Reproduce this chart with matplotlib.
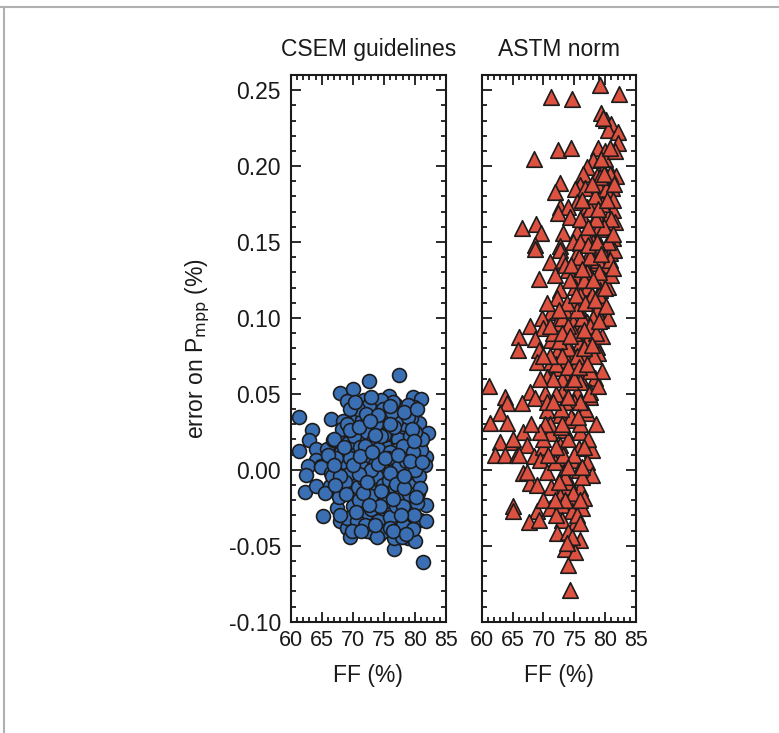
import numpy as np
import matplotlib.pyplot as plt
from matplotlib.lines import Line2D
from matplotlib.ticker import MultipleLocator

plt.rcParams['font.family'] = ['Liberation Sans', 'DejaVu Sans']

# ---- data: (FF %, error on Pmpp %) ----
csem_pts = [
    (61.4, 0.0347), (72.6, 0.0588), (77.4, 0.0625), (68.0, 0.0509), (70.1, 0.0531),
    (69.1, 0.0452), (71.8, 0.046), (74.2, 0.0443), (75.8, 0.0487), (77.0, 0.0428),
    (79.6, 0.0478), (80.9, 0.0465), (79.8, 0.0417), (66.5, 0.0334), (63.4, 0.0263),
    (62.9, 0.0197), (61.4, 0.0127), (64.0, 0.0136), (65.9, 0.0136), (66.8, 0.0197),
    (68.4, 0.0324), (70.6, 0.0362), (71.6, 0.0318), (73.8, 0.0362), (75.1, 0.0395),
    (77.8, 0.0362), (79.7, 0.0373), (80.7, 0.0311), (82.1, 0.0245), (70.3, 0.0268),
    (73.0, 0.0268), (75.1, 0.0274), (77.8, 0.0285), (80.2, 0.0237), (67.6, 0.0197),
    (69.5, 0.0197), (71.6, 0.0208), (74.1, 0.0197), (76.2, 0.0197), (78.6, 0.0197),
    (80.8, 0.0176), (68.1, 0.012), (70.3, 0.0132), (72.4, 0.0136), (73.8, 0.0136),
    (75.7, 0.0132), (77.8, 0.0143), (79.7, 0.0136), (81.8, 0.0084), (64.1, 0.0066),
    (62.8, 0.0026), (64.9, 0.0026),
    (62.5, -0.0033), (62.3, -0.0149), (64.1, -0.0105), (64.9, 0.0022), (66.5, -0.0022),
    (66.3, -0.0105), (65.2, -0.0307), (67.9, -0.0142), (67.5, -0.0252), (67.9, -0.034),
    (69.1, -0.0384), (69.5, -0.0443), (69.0, -0.0318), (70.3, -0.0197), (70.8, -0.0066),
    (72.4, 0.0), (72.4, -0.034), (73.3, -0.0417), (74.2, -0.0428), (72.4, -0.0219),
    (74.3, -0.0285), (75.7, -0.0252), (75.7, -0.0142), (73.5, -0.0099), (75.1, -0.0033),
    (77.3, -0.034), (77.3, -0.0417), (76.7, -0.0522), (78.9, -0.0449), (80.0, -0.0471),
    (81.3, -0.0610), (80.8, -0.0329), (81.8, -0.034), (81.8, -0.023), (80.5, -0.0153),
    (78.6, -0.0296), (78.6, -0.0197), (78.4, -0.0088), (77.0, -0.0022), (80.2, -0.0022),
    (81.6, 0.0033), (74.1, -0.0175), (71.1, -0.0274), (69.8, -0.0088), (68.4, 0.0022),
    (71.9, -0.0142), (75.1, -0.0373), (78.4, -0.0373),
    (68.5, 0.005), (69.5, -0.002), (70.5, 0.008), (71.5, 0.002), (72.5, 0.010),
    (73.5, 0.004), (74.5, 0.007), (75.5, 0.001), (76.5, 0.009), (77.5, 0.003),
    (78.5, 0.006), (79.5, 0.000), (68.8, -0.008), (69.8, -0.015), (70.8, -0.011),
    (71.8, -0.006), (72.8, -0.013), (73.8, -0.004), (74.8, -0.010), (75.8, -0.007),
    (76.8, -0.012), (77.8, -0.016), (78.8, -0.005), (79.8, -0.010), (69.2, 0.018),
    (70.2, 0.022), (71.2, 0.015), (72.2, 0.025), (73.2, 0.019), (74.2, 0.028),
    (75.2, 0.016), (76.2, 0.024), (77.2, 0.020), (78.2, 0.030), (79.2, 0.022),
    (70.0, -0.024), (71.0, -0.020), (72.0, -0.030), (73.0, -0.026), (74.0, -0.034),
    (75.0, -0.021), (76.0, -0.031), (77.0, -0.024), (78.0, -0.036), (79.0, -0.027),
    (71.4, 0.033), (73.4, 0.038), (75.6, 0.034), (77.6, 0.040), (72.6, 0.043),
    (76.4, 0.045), (78.8, 0.043), (67.3, 0.008), (66.6, -0.004), (67.8, -0.018),
    (68.2, 0.027), (80.2, 0.008), (80.6, -0.004), (81.0, 0.013), (80.4, -0.022),
    (81.2, 0.020), (73.0, 0.000), (74.0, 0.014), (76.0, -0.002), (77.0, 0.013),
    (78.0, -0.024), (75.0, -0.040), (76.6, -0.045), (74.6, 0.046), (79.4, 0.034),
    (69.6, 0.008), (70.6, -0.034), (72.2, -0.040), (79.6, -0.039),
    (69.0, 0.030), (70.9, 0.040), (72.9, 0.048), (74.9, 0.040), (76.9, 0.032),
    (78.9, 0.035), (80.0, 0.025), (68.0, -0.030), (69.9, -0.040), (71.9, -0.036),
    (73.9, -0.044), (75.9, -0.038), (77.9, -0.044), (79.9, -0.030), (71.0, -0.003),
    (72.0, 0.016), (73.0, -0.017), (74.0, 0.004), (75.0, 0.023), (76.0, 0.012),
    (77.0, -0.009), (78.0, 0.016), (79.0, -0.016), (80.0, 0.000), (70.0, 0.003),
    (68.0, -0.004), (67.0, 0.020), (66.0, 0.010), (65.5, -0.015), (69.5, 0.040),
    (71.7, -0.015), (73.7, 0.030), (75.7, 0.008), (77.7, -0.030), (79.7, 0.012),
    (76.3, 0.038), (72.3, -0.008), (74.4, -0.024), (78.3, -0.012), (80.8, -0.012),
    (70.4, 0.045), (72.1, 0.037), (74.0, 0.036), (76.0, 0.042), (78.2, 0.038),
    (80.3, 0.040), (69.6, 0.026), (71.0, 0.028), (72.7, 0.032), (74.6, 0.022),
    (76.7, 0.028), (79.5, 0.027), (68.6, 0.015), (71.1, 0.009), (73.1, 0.012),
    (75.1, 0.008), (77.3, 0.010), (79.2, 0.006), (81.1, 0.005), (68.9, -0.016),
    (70.5, -0.028), (72.6, -0.023), (74.6, -0.014), (76.4, -0.019), (78.3, -0.004),
    (80.1, -0.018), (71.3, -0.040), (73.6, -0.036), (76.5, -0.040), (78.6, -0.042),
    (79.8, 0.019), (66.9, 0.003), (67.1, -0.010), (73.6, 0.023), (75.9, 0.030),
]

astm_pts = [
    (79.1, 0.2533), (71.2, 0.2452), (74.7, 0.2445), (82.3, 0.2474), (79.4, 0.2347),
    (80.1, 0.2303), (80.9, 0.2276), (80.5, 0.2241), (82.0, 0.2226), (79.7, 0.2314),
    (82.0, 0.2153), (72.3, 0.2105), (74.5, 0.2116), (68.5, 0.2044), (78.9, 0.2116),
    (80.0, 0.2101), (78.1, 0.2039), (77.0, 0.1995), (79.7, 0.1974), (76.4, 0.1947),
    (78.6, 0.1934), (81.1, 0.1941), (81.8, 0.1934), (72.7, 0.1886), (75.9, 0.1875),
    (78.9, 0.1875), (71.9, 0.1831), (75.1, 0.1847), (76.7, 0.1853), (80.5, 0.1816),
    (81.1, 0.1853), (75.4, 0.1765), (78.1, 0.1765), (80.0, 0.1765), (72.7, 0.1732),
    (74.0, 0.1728), (77.0, 0.1732), (81.2, 0.1711), (72.4, 0.1693), (74.3, 0.1667),
    (78.6, 0.1678), (80.5, 0.1667), (81.6, 0.1634), (76.5, 0.1645), (66.6, 0.1590),
    (68.8, 0.1618), (69.6, 0.1557), (73.2, 0.1557), (75.4, 0.1568), (77.6, 0.1557),
    (80.0, 0.1584), (81.2, 0.1524), (68.6, 0.1480), (72.7, 0.1474), (75.9, 0.1491),
    (79.2, 0.1480),
    (68.6, 0.1452), (72.7, 0.1447), (75.4, 0.1426), (77.6, 0.1436), (79.4, 0.1469),
    (80.8, 0.1426), (71.1, 0.1370), (73.2, 0.1382), (75.9, 0.1370), (78.4, 0.1360),
    (80.3, 0.1349), (69.3, 0.1255), (71.9, 0.1283), (74.0, 0.1316), (75.4, 0.1272),
    (77.6, 0.1283), (79.7, 0.1261), (72.7, 0.1184), (75.1, 0.1206), (77.0, 0.1195),
    (79.2, 0.1184), (80.5, 0.1206), (72.2, 0.1130), (74.8, 0.1107), (77.3, 0.1118),
    (79.7, 0.1107), (71.3, 0.1042), (73.5, 0.1053), (75.7, 0.1064), (78.6, 0.1053),
    (69.7, 0.0998), (72.2, 0.0969), (74.8, 0.0976), (77.0, 0.0976), (79.4, 0.0987),
    (67.8, 0.0947), (70.0, 0.0932), (73.8, 0.0921), (75.9, 0.0910), (78.4, 0.0899),
    (66.1, 0.0877), (68.6, 0.0860), (71.3, 0.0855), (73.2, 0.0844), (75.9, 0.0833),
    (78.6, 0.0811), (65.9, 0.0789), (69.2, 0.0789), (72.2, 0.0778), (74.6, 0.0768),
    (78.9, 0.0768), (68.9, 0.0713), (71.3, 0.0713), (73.8, 0.0724), (76.5, 0.0724),
    (72.2, 0.0669), (75.1, 0.0680), (77.6, 0.0658), (70.5, 0.0614), (73.5, 0.0625),
    (75.9, 0.0614), (78.4, 0.0603), (61.2, 0.0553), (63.8, 0.0482), (67.8, 0.0515),
    (70.3, 0.0505), (73.0, 0.0515), (75.4, 0.0505), (77.6, 0.0515),
    (64.1, 0.0439), (63.0, 0.0373), (61.3, 0.0307), (64.1, 0.0307), (66.5, 0.0439),
    (68.6, 0.0472), (63.0, 0.0186), (64.9, 0.0186), (62.2, 0.0099), (63.8, 0.0099),
    (65.7, 0.0099), (66.7, 0.0252), (67.3, 0.0164), (68.4, 0.0088), (66.7, -0.0022),
    (67.8, -0.0088), (70.5, 0.0395), (72.7, 0.0362), (74.8, 0.0329), (77.0, 0.0373),
    (77.6, 0.0482), (71.1, 0.0241), (73.5, 0.0263), (75.9, 0.0252), (70.0, 0.0153),
    (72.7, 0.0164), (75.7, 0.0142), (77.8, 0.0132), (69.4, 0.0066), (72.2, 0.0077),
    (74.6, 0.0066), (77.0, 0.0055), (67.3, -0.0011), (70.5, -0.0011), (73.2, -0.0022),
    (75.7, 0.0), (77.8, -0.0033), (68.9, -0.0099), (71.3, -0.0110), (73.8, -0.0110),
    (75.9, -0.0121), (72.7, -0.0175), (74.6, -0.0197), (76.5, -0.0186), (65.1, -0.0241),
    (65.1, -0.0274), (68.9, -0.0274), (67.6, -0.0346), (69.2, -0.0329), (71.1, -0.0252),
    (73.0, -0.0230), (74.6, -0.0274), (76.2, -0.0252), (73.0, -0.0329), (75.1, -0.0351),
    (72.2, -0.0417), (74.0, -0.0406), (75.9, -0.0465), (73.5, -0.0522), (75.1, -0.0544),
    (74.0, -0.0625), (74.3, -0.0794), (74.6, -0.0439), (73.8, -0.0482),
    (74.0, 0.020), (75.0, 0.045), (76.0, 0.058), (77.0, 0.085), (78.0, 0.100),
    (79.0, 0.115), (80.0, 0.140), (81.0, 0.165), (80.2, 0.185), (79.0, 0.160),
    (78.0, 0.150), (77.0, 0.130), (76.0, 0.115), (75.0, 0.090), (74.0, 0.080),
    (73.0, 0.060), (72.0, 0.050), (71.0, 0.030), (70.0, 0.020), (73.5, 0.045),
    (76.8, 0.040), (78.2, 0.075), (79.5, 0.088), (80.5, 0.100), (81.0, 0.128),
    (81.5, 0.145), (80.0, 0.205), (79.2, 0.193), (81.3, 0.178), (77.5, 0.172),
    (78.8, 0.138), (76.2, 0.100), (74.5, 0.058), (72.8, 0.028), (71.8, 0.005),
    (70.2, 0.030), (73.2, 0.010), (74.2, -0.008), (75.4, -0.030), (76.3, -0.005),
    (77.2, 0.020), (78.5, 0.030), (72.0, 0.070), (75.5, 0.075), (77.8, 0.115),
    (79.8, 0.160), (80.8, 0.195), (81.6, 0.210), (71.5, 0.090), (73.0, 0.100),
    (74.3, 0.125), (75.8, 0.140), (76.8, 0.155), (77.3, 0.050), (76.0, 0.030),
    (78.8, 0.055), (79.5, 0.065),
    (72.5, 0.085), (74.0, 0.095), (75.5, 0.105), (76.5, 0.125), (77.5, 0.140),
    (78.5, 0.165), (79.5, 0.175), (80.5, 0.150), (79.0, 0.130), (77.5, 0.095),
    (76.5, 0.080), (75.0, 0.060), (73.0, 0.075), (71.5, 0.060), (70.5, 0.045),
    (69.5, 0.025), (72.0, 0.015), (73.5, -0.005), (75.0, 0.010), (76.5, 0.015),
    (74.5, 0.035), (76.0, 0.045), (77.5, 0.065), (78.5, 0.090), (80.0, 0.120),
    (81.2, 0.155), (79.8, 0.195), (78.3, 0.180), (76.0, 0.165), (74.8, 0.150),
    (73.5, 0.135), (70.5, 0.110), (71.0, 0.075), (69.5, 0.060), (68.0, 0.030),
    (66.0, 0.010), (65.0, 0.020), (70.0, -0.020), (72.0, -0.030), (76.0, -0.035),
    (74.8, -0.015),
    (76.2, 0.178), (77.8, 0.188), (79.3, 0.205), (80.7, 0.212), (77.2, 0.160),
    (78.8, 0.172), (80.3, 0.178), (81.5, 0.188), (76.0, 0.150), (77.2, 0.148),
    (78.7, 0.150), (80.8, 0.138), (74.5, 0.135), (76.3, 0.132), (78.0, 0.125),
    (79.3, 0.142), (81.3, 0.133), (73.8, 0.110), (75.3, 0.115), (76.8, 0.110),
    (78.3, 0.112), (80.2, 0.108), (73.0, 0.090), (74.3, 0.088), (76.5, 0.092),
    (77.8, 0.082), (79.0, 0.098), (71.0, 0.095), (72.5, 0.105), (74.0, 0.068),
    (75.8, 0.068), (77.0, 0.070), (70.0, 0.075), (72.8, 0.040), (74.0, 0.048),
    (75.6, 0.035), (71.5, 0.045), (73.0, 0.030), (70.8, 0.010), (74.0, 0.002),
    (76.2, 0.002), (72.5, -0.008), (76.0, -0.020), (73.5, -0.020), (71.8, -0.020),
]

csem = np.array(csem_pts)
astm = np.array(astm_pts)

titles = ["CSEM guidelines", "ASTM norm"]
ytick_vals = [-0.10, -0.05, 0.00, 0.05, 0.10, 0.15, 0.20, 0.25]
xtick_vals = [60, 65, 70, 75, 80, 85]
ink = '#1a1a1a'

fig = plt.figure(figsize=(7.79, 7.33), dpi=100)
ax1 = fig.add_axes([0.3732, 0.1518, 0.1994, 0.7459])
ax2 = fig.add_axes([0.6184, 0.1518, 0.1981, 0.7459])

ax1.scatter(csem[:, 0], csem[:, 1], s=100, marker='o', c='#3b6fb4',
            edgecolors='#1c1c1c', linewidths=1.2, zorder=3)
ax2.scatter(astm[:, 0], astm[:, 1], s=125, marker='^', c='#dd5140',
            edgecolors='#1c1c1c', linewidths=1.2, zorder=3)

for ax, t in zip([ax1, ax2], titles):
    ax.set_xlim(60, 85)
    ax.set_ylim(-0.10, 0.26)
    ax.set_xticks(xtick_vals)
    ax.set_yticks(ytick_vals)
    ax.xaxis.set_minor_locator(MultipleLocator(1))
    ax.yaxis.set_minor_locator(MultipleLocator(0.01))
    ax.tick_params(which='both', direction='in', top=True, right=True,
                   width=1.3, colors=ink, labelsize=15.5, labelcolor=ink)
    ax.tick_params(which='major', length=7, pad=6)
    ax.tick_params(which='minor', length=3.5)
    for sp in ax.spines.values():
        sp.set_linewidth(1.5)
        sp.set_color(ink)
    ax.set_title(t, fontsize=16.5, pad=14, color=ink)
    ax.set_xlabel("FF (%)", fontsize=16.5, labelpad=9, color=ink)

ax1.set_yticklabels(["%.2f" % v for v in ytick_vals])
ax1.tick_params(axis='y', which='major', pad=7, labelsize=16.5)
ax2.tick_params(axis='y', labelleft=False)
ax1.set_ylabel("error on P$_{\\mathrm{mpp}}$ (%)", fontsize=16.5, labelpad=12,
               color=ink)

# thin grey frame at the top and left edge of the figure
fig.add_artist(Line2D([0, 1], [0.990, 0.990], transform=fig.transFigure,
                      color='#b0b0b0', linewidth=1.5))
fig.add_artist(Line2D([0.0055, 0.0055], [0, 0.990], transform=fig.transFigure,
                      color='#b0b0b0', linewidth=1.5))

fig.savefig("out.png", dpi=100)
